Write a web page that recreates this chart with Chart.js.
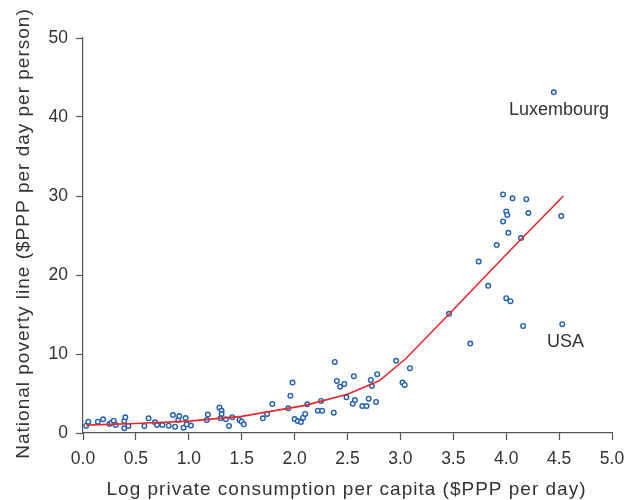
<!DOCTYPE html>
<html>
<head>
<meta charset="utf-8">
<script src="https://cdn.jsdelivr.net/npm/chart.js@4/dist/chart.umd.min.js"></script>
<style>
  html, body { margin: 0; padding: 0; background: #fff; }
  #wrap { width: 628px; height: 500px; }
</style>
</head>
<body>
<div id="wrap"><canvas id="chart" width="628" height="500"></canvas></div>
<script>
// country observations (log consumption, poverty line)
const countryX = [
  0.03, 0.05, 0.14, 0.19, 0.25, 0.27, 0.29, 0.31, 0.39, 0.39, 0.40, 0.43,
  0.58, 0.62, 0.68, 0.70, 0.75, 0.81, 0.85, 0.87, 0.90, 0.91, 0.95, 0.97, 0.98, 1.02,
  1.17, 1.18, 1.29, 1.31, 1.31, 1.30, 1.35, 1.38, 1.41, 1.48, 1.50, 1.52,
  1.70, 1.74, 1.79, 1.94, 1.96, 1.98, 2.00, 2.03, 2.06, 2.08, 2.10, 2.12,
  2.22, 2.25, 2.26, 2.37, 2.38, 2.40, 2.43, 2.47, 2.49, 2.55, 2.56, 2.57,
  2.64, 2.68, 2.70, 2.72, 2.73, 2.77, 2.78, 2.96, 3.02, 3.04, 3.09,
  3.46, 3.66, 3.74, 3.83, 3.91, 3.97, 3.97, 4.00, 4.01, 4.02, 4.00, 4.04,
  4.06, 4.14, 4.16, 4.19, 4.21, 4.45, 4.52, 4.53
];
const povertyLine = [
  0.93, 1.43, 1.43, 1.74, 1.14, 1.31, 1.56, 1.01, 0.60, 1.52, 1.99, 0.89,
  0.89, 1.86, 1.36, 1.01, 1.01, 0.93, 2.28, 0.80, 1.65, 2.15, 0.68, 1.90, 1.10, 0.95,
  1.65, 2.33, 3.23, 2.81, 2.39, 1.86, 1.74, 0.89, 2.00, 1.65, 1.43, 1.10,
  1.86, 2.41, 3.68, 3.13, 4.73, 6.38, 1.77, 1.52, 1.39, 1.94, 2.41, 3.64,
  2.83, 4.06, 2.83, 2.57, 9.00, 6.59, 5.87, 6.21, 4.52, 3.71, 7.19, 4.18,
  3.42, 3.42, 4.35, 6.72, 5.96, 3.93, 7.44, 9.13, 6.38, 6.08, 8.20,
  15.08, 11.32, 21.71, 18.63, 23.79, 30.20, 26.78, 28.05, 27.60, 25.35, 17.07, 16.69,
  29.70, 24.68, 13.56, 29.60, 27.85, 43.13, 27.47, 13.78
];

// smoothed fit
const fitX = [0.03, 0.5, 1.0, 1.5, 1.8, 2.1, 2.5, 2.8, 3.05, 3.5, 4.0, 4.54];
const fitY = [1.0, 1.2, 1.5, 2.1, 2.8, 3.5, 4.9, 6.6, 9.4, 15.6, 22.6, 30.0];

// labelled countries
const calloutNames = ['Luxembourg', 'USA'];
const calloutX = [4.50, 4.56];
const calloutY = [40.9, 11.5];

const xTitle = 'Log private consumption per capita ($PPP per day)';
const yTitle = 'National poverty line ($PPP per day per person)';

const textColor = '#333333';
const axisColor = '#555555';
const fontFamily = '"Liberation Sans", Arial, sans-serif';

// callouts + axis titles (drawn here so the titles can get a little letter spacing)
const textPlugin = {
  id: 'texts',
  afterDraw(chart) {
    const {ctx, chartArea, scales: {x, y}} = chart;
    ctx.save();
    ctx.fillStyle = textColor;
    ctx.font = '18px ' + fontFamily;
    ctx.textAlign = 'center';
    ctx.textBaseline = 'middle';
    calloutNames.forEach((name, i) => {
      ctx.fillText(name, x.getPixelForValue(calloutX[i]), y.getPixelForValue(calloutY[i]));
    });

    ctx.font = '19px ' + fontFamily;
    ctx.letterSpacing = '1px';
    ctx.textBaseline = 'alphabetic';
    ctx.fillText(xTitle, (chartArea.left + chartArea.right) / 2 - 1, 494.5);

    ctx.translate(28.5, (chartArea.top + chartArea.bottom) / 2 - 2);
    ctx.rotate(-Math.PI / 2);
    ctx.fillText(yTitle, 0, 0);
    ctx.restore();
  }
};

const ctx = document.getElementById('chart').getContext('2d');
new Chart(ctx, {
  type: 'scatter',
  data: {
    datasets: [
      {
        type: 'line',
        data: fitX.map((v, i) => ({x: v, y: fitY[i]})),
        borderColor: '#e8282c',
        borderWidth: 1.6,
        pointRadius: 0,
        fill: false,
        tension: 0
      },
      {
        data: countryX.map((v, i) => ({x: v, y: povertyLine[i]})),
        pointRadius: 2.3,
        pointBorderWidth: 1.4,
        pointBorderColor: '#1f5fb0',
        pointBackgroundColor: '#ffffff'
      }
    ]
  },
  options: {
    responsive: false,
    animation: false,
    layout: { padding: { top: 38, right: 16, bottom: 0, left: 0 } },
    plugins: { legend: { display: false }, tooltip: { enabled: false } },
    scales: {
      x: {
        type: 'linear', min: 0, max: 5,
        afterFit: s => { s.height = 67; s.paddingLeft = 0; s.paddingRight = 0; },
        border: { color: axisColor, width: 1.2 },
        grid: { drawOnChartArea: false, tickLength: 7, color: axisColor, tickWidth: 1.2 },
        ticks: { stepSize: 0.5, color: textColor, padding: 9, maxRotation: 0,
                 font: { family: fontFamily, size: 17.5 },
                 callback: v => v.toFixed(1) }
      },
      y: {
        type: 'linear', min: 0, max: 50,
        afterFit: s => { s.width = 83; },
        border: { color: axisColor, width: 1.2 },
        grid: { drawOnChartArea: false, tickLength: 7, color: axisColor, tickWidth: 1.2 },
        ticks: { stepSize: 10, color: textColor, padding: 8,
                 font: { family: fontFamily, size: 17.5 } }
      }
    }
  },
  plugins: [textPlugin]
});
</script>
</body>
</html>
